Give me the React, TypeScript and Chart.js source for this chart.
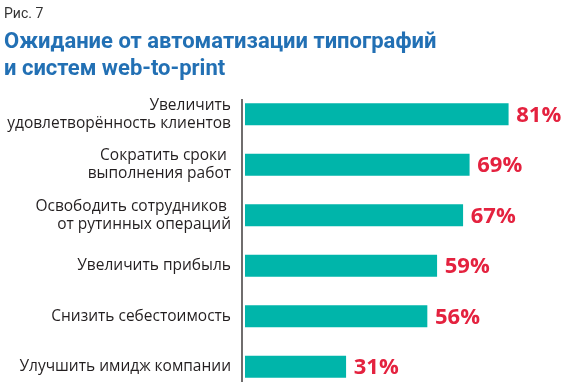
import React, { useEffect, useRef } from "react";
import { Chart, registerables } from "chart.js";

Chart.register(...registerables);

const figureLabel = "Рис. 7";
const titleLines = ["Ожидание от автоматизации типографий", "и систем web-to-print"];
const categories: (string | string[])[] = [
  ["Увеличить", "удовлетворённость клиентов"],
  ["Сократить сроки ", "выполнения работ"],
  ["Освободить сотрудников ", "от рутинных операций"],
  "Увеличить прибыль",
  "Снизить себестоимость",
  "Улучшить имидж компании",
];
const values = [81, 69, 67, 59, 56, 31];

const BAR = "#00b5aa";
const RED = "#e4223f";
const BLUE = "#2270b4";

const axisLinePlugin = {
  id: "axisLine",
  afterDatasetsDraw(chart: any) {
    const { ctx, chartArea } = chart;
    ctx.save();
    ctx.strokeStyle = "#231f20";
    ctx.lineWidth = 1.3;
    ctx.beginPath();
    const x = chartArea.left - 3;
    ctx.moveTo(x, chartArea.top + 10);
    ctx.lineTo(x, chartArea.bottom - 10);
    ctx.stroke();
    ctx.restore();
  },
};

const valueLabelPlugin = {
  id: "valueLabels",
  afterDatasetsDraw(chart: any) {
    const { ctx } = chart;
    const meta = chart.getDatasetMeta(0);
    ctx.save();
    ctx.fillStyle = RED;
    ctx.font = "bold 22px 'Open Sans'";
    ctx.textAlign = "left";
    ctx.textBaseline = "middle";
    meta.data.forEach((bar: any, i: number) => {
      ctx.fillText(values[i] + "%", bar.x + 8, bar.y + 1);
    });
    ctx.restore();
  },
};

export default function App() {
  const ref = useRef<HTMLCanvasElement>(null);
  useEffect(() => {
    if (!ref.current) return;
    const chart = new Chart(ref.current, {
      type: "bar",
      data: {
        labels: categories,
        datasets: [
          {
            data: values,
            backgroundColor: BAR,
            borderWidth: 0,
            barThickness: 21.5,
          },
        ],
      },
      options: {
        indexAxis: "y",
        animation: false,
        responsive: false,
        maintainAspectRatio: false,
        layout: { padding: { top: 89, left: 0, right: 0, bottom: 0 } },
        plugins: {
          legend: { display: false },
          tooltip: { enabled: false },
          title: { display: false },
        },
        scales: {
          x: { display: false, min: 0, max: 100 },
          y: {
            afterFit(scale: any) {
              scale.width = 245;
              scale.paddingTop = 0;
              scale.paddingBottom = 0;
            },
            grid: { display: false, drawTicks: false },
            border: { display: false },
            ticks: {
              padding: 14,
              color: "#231f20",
              font: { family: "'Open Sans'", size: 15.5, lineHeight: 1.14 },
            },
          },
        },
      },
      plugins: [axisLinePlugin, valueLabelPlugin],
    });
    return () => chart.destroy();
  }, []);

  return (
    <div
      style={{
        position: "fixed",
        left: 0,
        top: 0,
        width: 570,
        height: 385,
        overflow: "hidden",
        background: "#fff",
      }}
    >
      <canvas ref={ref} width={570} height={392} style={{ position: "absolute", left: 0, top: 0 }} />
      <div
        style={{
          position: "absolute",
          left: 4,
          top: 4.5,
          fontFamily: "Roboto",
          fontSize: 14,
          lineHeight: "16px",
          color: "#333",
          whiteSpace: "nowrap",
        }}
      >
        {figureLabel}
      </div>
      <div
        style={{
          position: "absolute",
          left: 4,
          top: 27.3,
          fontFamily: "Roboto",
          fontWeight: 700,
          fontSize: 22,
          lineHeight: "27px",
          color: BLUE,
          whiteSpace: "nowrap",
        }}
      >
        {titleLines.map((t, i) => (
          <div key={i}>{t}</div>
        ))}
      </div>
    </div>
  );
}
